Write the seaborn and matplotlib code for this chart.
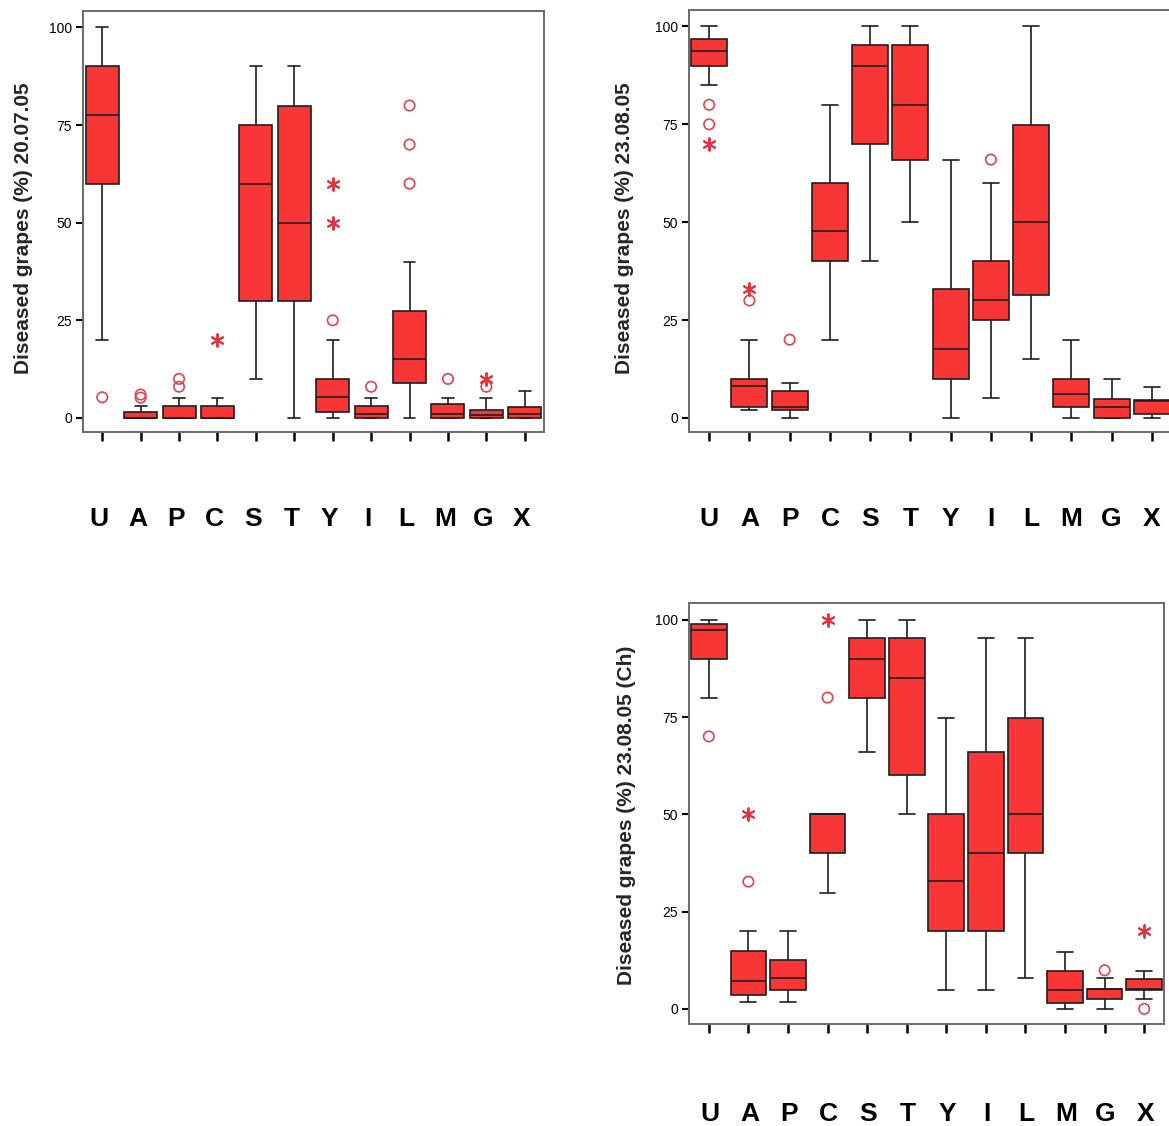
import numpy as np
import pandas as pd
import matplotlib
matplotlib.use("Agg")
import matplotlib.pyplot as plt
from matplotlib.transforms import ScaledTranslation
import seaborn as sns

# ---------------- data ----------------
cats = ['U', 'A', 'P', 'C', 'S', 'T', 'Y', 'I', 'L', 'M', 'G', 'X']

# Panel 1: Diseased grapes (%) 20.07.05
p1_low  = [20, 0, 0, 0, 10, 0, 0, 0, 0, 0, 0, 0]
p1_q1   = [60, 0, 0, 0, 30, 30, 1.5, 0, 9, 0, 0, 0]
p1_med  = [77.5, 0, 0, 0, 60, 50, 5.3, 1, 15, 1, 0.7, 0.9]
p1_q3   = [90, 1.4, 3, 3, 75, 80, 10, 3, 27.5, 3.6, 2, 2.7]
p1_high = [100, 3, 5, 5, 90, 90, 20, 5, 40, 5, 5, 7]
p1_circle_cat = ['U', 'A', 'A', 'P', 'P', 'Y', 'I', 'L', 'L', 'L', 'M', 'G']
p1_circle_val = [5.3, 5.2, 6, 8, 10, 25, 8, 60, 70, 80, 10, 8]
p1_star_cat = ['C', 'Y', 'Y', 'G']
p1_star_val = [20, 50, 60, 10]

# Panel 2: Diseased grapes (%) 23.08.05
p2_low  = [85, 2, 0, 20, 40, 50, 0, 5, 15, 0, 0, 0]
p2_q1   = [90, 2.7, 2, 40, 70, 66, 10, 25, 31.5, 2.7, 0, 1.1]
p2_med  = [93.8, 8.2, 2.9, 47.7, 90, 80, 17.6, 30, 50, 6, 2.7, 4.2]
p2_q3   = [96.7, 10, 6.9, 60, 95.2, 95.2, 32.9, 40, 74.7, 10, 4.8, 4.7]
p2_high = [100, 20, 8.9, 80, 100, 100, 66, 60, 100, 20, 10, 8]
p2_circle_cat = ['U', 'U', 'A', 'P', 'I']
p2_circle_val = [80, 75, 30, 20, 66]
p2_star_cat = ['U', 'A']
p2_star_val = [70, 33]

# Panel 3: Diseased grapes (%) 23.08.05 (Ch)
p3_low  = [80, 1.8, 1.8, 29.7, 66, 50, 4.9, 4.9, 8, 0, 0, 2.4]
p3_q1   = [90, 3.6, 4.9, 40, 80, 60, 20, 20, 40, 1.6, 2.5, 4.8]
p3_med  = [97.4, 7.1, 8, 50, 90, 85, 32.8, 40, 50, 4.8, 5.0, 5.0]
p3_q3   = [98.9, 14.8, 12.5, 50, 95.2, 95.2, 50, 66.1, 74.8, 9.8, 5.1, 7.6]
p3_high = [100, 20, 20, 50, 100, 100, 74.8, 95.2, 95.2, 14.6, 7.8, 9.7]
p3_circle_cat = ['U', 'A', 'C', 'G', 'X']
p3_circle_val = [70, 32.7, 80, 9.9, 0]
p3_star_cat = ['A', 'C', 'X']
p3_star_val = [50, 100, 20]

yticks = [0, 25, 50, 75, 100]

# ---------------- style ----------------
BOX = '#f83636'
EDGE = '#1e1e1e'
CIRC = '#e2444e'
STAR = '#e8303a'
FRAME = '#6a6a6a'

sns.set_style("white")
plt.rcParams['font.family'] = ['Liberation Sans', 'DejaVu Sans']

W, H = 1169, 1126
fig = plt.figure(figsize=(W / 100, H / 100), dpi=100)
fig.patch.set_facecolor('white')


def px_axes(left, top, right, bottom):
    return fig.add_axes([left / W, 1 - bottom / H, (right - left) / W, (bottom - top) / H])


def draw(ax, low, q1, med, q3, high, ccat, cval, scat, sval,
         width, capw, ylim, label_pad, letter_dx):
    rows = []
    for i, c in enumerate(cats):
        for v in (low[i], q1[i], med[i], q3[i], high[i]):
            rows.append((c, v))
    df = pd.DataFrame(rows, columns=['group', 'value'])
    sns.boxplot(data=df, x='group', y='value', order=cats, color=BOX,
                saturation=1, linecolor=EDGE, linewidth=1.2, width=width,
                whis=(0, 100), fliersize=0, capwidths=capw, ax=ax)

    cdf = pd.DataFrame({'group': ccat, 'value': cval})
    n0 = len(ax.collections)
    sns.stripplot(data=cdf, x='group', y='value', order=cats, jitter=False,
                  marker='o', size=7.5, color=CIRC, linewidth=1.2, ax=ax)
    for coll in ax.collections[n0:]:
        coll.set_facecolor('none')
        coll.set_edgecolor(CIRC)
        coll.set_linewidth(1.2)
        coll.set_zorder(4)

    sdf = pd.DataFrame({'group': scat, 'value': sval})
    n0 = len(ax.collections)
    sns.stripplot(data=sdf, x='group', y='value', order=cats, jitter=False,
                  marker=(6, 2, 0), size=9, color=STAR, linewidth=1.4, ax=ax)
    for coll in ax.collections[n0:]:
        coll.set_edgecolor(STAR)
        coll.set_facecolor(STAR)
        coll.set_linewidth(1.4)
        coll.set_zorder(4)

    ax.set_xlim(-0.5, len(cats) - 0.5)
    ax.set_ylim(*ylim)
    ax.set_yticks(yticks)
    ax.set_yticklabels([str(t) for t in yticks])
    ax.set_xlabel('')
    ax.set_ylabel('')
    ax.set_facecolor('white')
    for s in ax.spines.values():
        s.set_visible(True)
        s.set_color(FRAME)
        s.set_linewidth(1.4)
    ax.tick_params(axis='y', left=True, direction='out', length=5, width=1.5,
                   color='black', labelsize=10, pad=3, labelcolor='black')
    ax.tick_params(axis='x', bottom=True, direction='out', length=6.5, width=1.8,
                   color='black', labelsize=19, pad=label_pad, labelcolor='black')
    for t in ax.get_xticklabels():
        t.set_fontweight('bold')
        if letter_dx:
            t.set_transform(t.get_transform() +
                            ScaledTranslation(letter_dx / 100, 0, fig.dpi_scale_trans))


ax1 = px_axes(83, 11, 544, 432)
draw(ax1, p1_low, p1_q1, p1_med, p1_q3, p1_high,
     p1_circle_cat, p1_circle_val, p1_star_cat, p1_star_val,
     width=0.86, capw=0.31, ylim=(-3.6, 104.2), label_pad=47.5, letter_dx=-3)

ax2 = px_axes(689, 10, 1172, 432)
draw(ax2, p2_low, p2_q1, p2_med, p2_q3, p2_high,
     p2_circle_cat, p2_circle_val, p2_star_cat, p2_star_val,
     width=0.9, capw=0.4, ylim=(-3.6, 104.2), label_pad=47.5, letter_dx=0)

ax3 = px_axes(689, 603, 1164, 1024)
draw(ax3, p3_low, p3_q1, p3_med, p3_q3, p3_high,
     p3_circle_cat, p3_circle_val, p3_star_cat, p3_star_val,
     width=0.9, capw=0.4, ylim=(-3.9, 104.3), label_pad=50, letter_dx=1)

lab_kw = dict(rotation=90, ha='center', va='center', fontsize=15, fontweight='bold')
fig.text(24 / W, 1 - 228 / H, 'Diseased grapes (%) 20.07.05', **lab_kw)
fig.text(624 / W, 1 - 228 / H, 'Diseased grapes (%) 23.08.05', **lab_kw)
fig.text(626 / W, 1 - 815 / H, 'Diseased grapes (%) 23.08.05 (Ch)', **lab_kw)

fig.savefig('out.png', dpi=100, facecolor='white')
